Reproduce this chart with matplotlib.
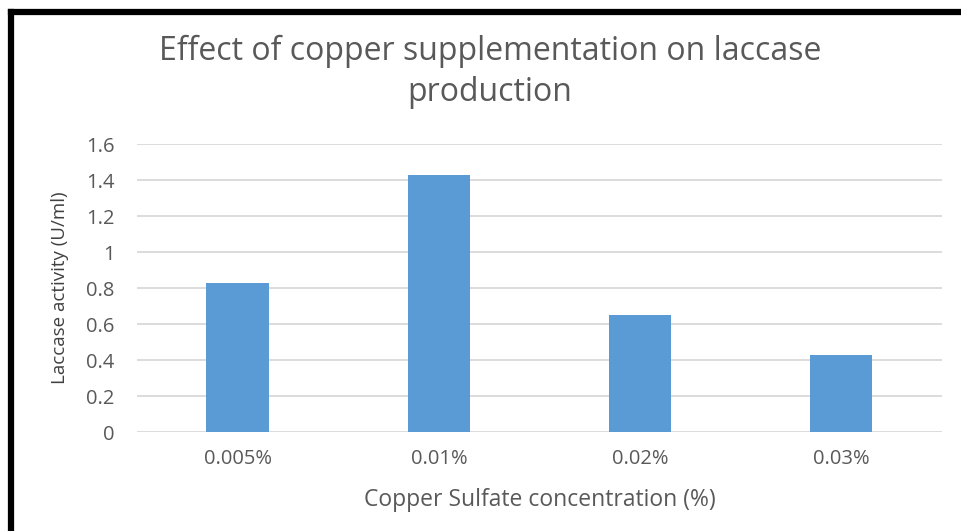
import matplotlib
matplotlib.use("Agg")
import matplotlib.pyplot as plt
from matplotlib.lines import Line2D

# data
categories = ['0.005%', '0.01%', '0.02%', '0.03%']
activity = [0.83, 1.43, 0.65, 0.43]
yticks = [0, 0.2, 0.4, 0.6, 0.8, 1, 1.2, 1.4, 1.6]
yticklabels = ['0', '0.2', '0.4', '0.6', '0.8', '1', '1.2', '1.4', '1.6']

txt = '#595959'
plt.rcParams['font.family'] = ['Open Sans', 'DejaVu Sans']

fig = plt.figure(figsize=(9.61, 5.31), dpi=100)
ax = fig.add_axes([0.1426, 0.1864, 0.8374, 0.5424])

x = range(len(categories))
ax.bar(x, activity, width=0.31, color='#5b9bd5', zorder=3)

ax.set_xlim(-0.5, len(categories) - 0.5)
ax.set_ylim(0, 1.6)
ax.set_yticks(yticks)
ax.set_yticklabels(yticklabels)
ax.set_xticks(list(x))
ax.set_xticklabels(categories)

# horizontal gridlines only, no spines
ax.yaxis.grid(True, color='#d9d9d9', lw=1.3, zorder=0)
for s in ax.spines.values():
    s.set_visible(False)
ax.tick_params(length=0, labelsize=14.5, colors=txt)
ax.tick_params(axis='y', pad=16)
ax.tick_params(axis='x', pad=12)

ax.set_xlabel('Copper Sulfate concentration (%)', fontsize=16.5, color=txt)
ax.set_ylabel('Laccase activity (U/ml)', fontsize=13.5, color='#404040')
# place axis labels where they sit in the original (pixels -> axes fraction)
ax.xaxis.set_label_coords(0.5, -(500 - 432) / 288, transform=ax.transAxes)
ax.yaxis.set_label_coords(-(137 - 60) / 805, 0.5, transform=ax.transAxes)
ax.xaxis.label.set_va('center')
ax.yaxis.label.set_va('center')

fig.text(0.51, 0.865, 'Effect of copper supplementation on laccase\nproduction',
         ha='center', va='center', fontsize=23, color=txt, linespacing=1.3)

# black frame on left and top
fig.add_artist(Line2D([10.5 / 961, 10.5 / 961], [0, 1 - 12 / 531], color='black', lw=4.5,
                      transform=fig.transFigure, solid_capstyle='projecting'))
fig.add_artist(Line2D([10.5 / 961, 1], [1 - 12 / 531, 1 - 12 / 531], color='black', lw=4.5,
                      transform=fig.transFigure, solid_capstyle='projecting'))

fig.savefig('out.png', dpi=100)
